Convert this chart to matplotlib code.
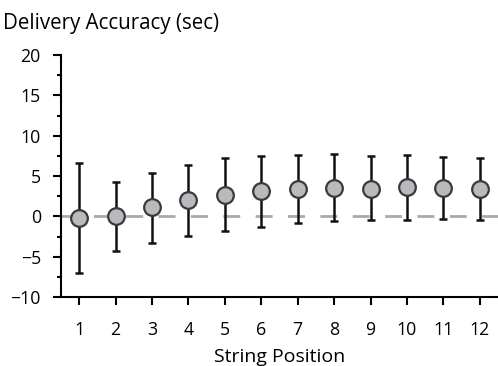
import numpy as np
import matplotlib
matplotlib.use("Agg")
import matplotlib.pyplot as plt
from matplotlib.ticker import MultipleLocator

# string position vs. mean delivery accuracy (sec) with SD error bars
positions = [1, 2, 3, 4, 5, 6, 7, 8, 9, 10, 11, 12]
accuracy = [-0.2, 0.0, 1.1, 2.0, 2.7, 3.2, 3.4, 3.5, 3.4, 3.6, 3.5, 3.4]
err_low = [6.8, 4.35, 4.4, 4.4, 4.5, 4.55, 4.25, 4.1, 3.85, 4.05, 3.85, 3.9]
err_high = [6.8, 4.3, 4.3, 4.4, 4.5, 4.3, 4.2, 4.2, 4.1, 4.0, 3.8, 3.8]

plt.rcParams['font.family'] = ['Open Sans', 'DejaVu Sans']

fig = plt.figure(figsize=(4.98, 3.66), dpi=100)
ax = fig.add_axes([61 / 498, 69 / 366, 437 / 498, 242 / 366])

ax.axhline(0, color='#aaaaaa', lw=2, dashes=(6.1, 5.55), zorder=1)
ax.errorbar(positions, accuracy, yerr=[err_low, err_high], fmt='none',
            ecolor='#111111', elinewidth=1.8, capsize=2.9, capthick=1.8, zorder=2)
ax.plot(positions, accuracy, 'o', ms=12, mfc='#b9babd', mec='#3a3a3a', mew=1.6, zorder=3)

ax.set_xlim(0.5, 12.5)
ax.set_ylim(-10, 20)
ax.set_xticks(positions)
ax.yaxis.set_major_locator(MultipleLocator(5))
ax.yaxis.set_minor_locator(MultipleLocator(2.5))

for side in ['top', 'right']:
    ax.spines[side].set_visible(False)
for side in ['left', 'bottom']:
    ax.spines[side].set_linewidth(1.5)
    ax.spines[side].set_color('black')

ax.tick_params(axis='both', which='major', length=6, width=1.5, labelsize=12.8)
ax.tick_params(axis='x', which='major', pad=11)
ax.tick_params(axis='y', which='major', pad=8.5)
ax.tick_params(axis='y', which='minor', length=3, width=1.5)

ax.set_xlabel('String Position', fontsize=14, labelpad=6.5)
fig.text(3 / 498, 1 - 23 / 366, 'Delivery Accuracy (sec)', fontsize=14.8, ha='left', va='center')

fig.savefig('out.png', dpi=100)
